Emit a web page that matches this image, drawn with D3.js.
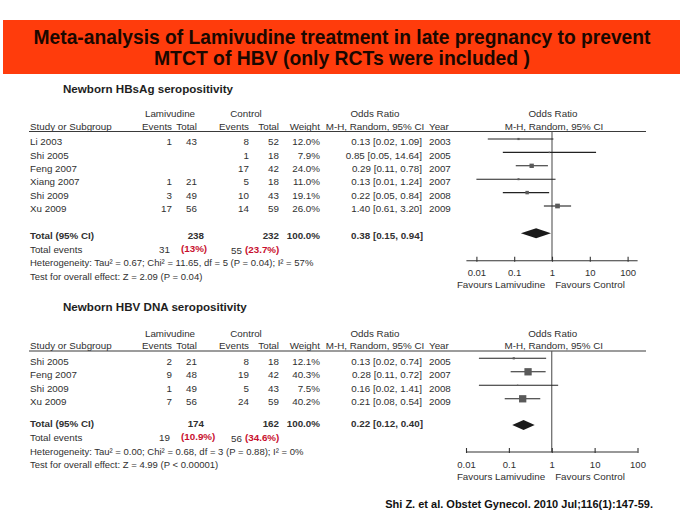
<!DOCTYPE html>
<html><head><meta charset="utf-8">
<script src="https://cdn.jsdelivr.net/npm/d3@7"></script>
<style>
html,body{margin:0;padding:0;background:#fff;}
svg{display:block;font-family:"Liberation Sans",Arial,sans-serif;}
</style></head>
<body><svg id="c" width="684" height="517"></svg>
<script>
// ---------------- DATA ----------------
const titleLines = ["Meta-analysis of Lamivudine treatment in late pregnancy to prevent", "MTCT of HBV (only RCTs were included )"];
const citation = "Shi Z. et al. Obstet Gynecol. 2010 Jul;116(1):147-59.";
const tickValues = [0.01, 0.1, 1, 10, 100];
const tickLabels = ["0.01", "0.1", "1", "10", "100"];

// Panel 1: Newborn HBsAg seropositivity
const p1Title = "Newborn HBsAg seropositivity";
const p1Studies = ["Li 2003", "Shi 2005", "Feng 2007", "Xiang 2007", "Shi 2009", "Xu 2009"];
const p1LamEvents = [1, null, null, 1, 3, 17];
const p1LamTotal = [43, null, null, 21, 49, 56];
const p1CtlEvents = [8, 1, 17, 5, 10, 14];
const p1CtlTotal = [52, 18, 42, 18, 43, 59];
const p1Weight = [12.0, 7.9, 24.0, 11.0, 19.1, 26.0];
const p1OR = [0.13, 0.85, 0.29, 0.13, 0.22, 1.40];
const p1Lo = [0.02, 0.05, 0.11, 0.01, 0.05, 0.61];
const p1Hi = [1.09, 14.64, 0.78, 1.24, 0.84, 3.20];
const p1Year = [2003, 2005, 2007, 2007, 2008, 2009];
const p1Totals = {lamTotal: 238, ctlTotal: 232, weight: 100.0, or: 0.38, lo: 0.15, hi: 0.94,
  lamEv: 31, lamPct: "(13%)", ctlEv: 55, ctlPct: "(23.7%)"};
const p1Het = "Heterogeneity: Tau\u00B2 = 0.67; Chi\u00B2 = 11.65, df = 5 (P = 0.04); I\u00B2 = 57%";
const p1Test = "Test for overall effect: Z = 2.09 (P = 0.04)";

// Panel 2: Newborn HBV DNA seropositivity
const p2Title = "Newborn HBV DNA seropositivity";
const p2Studies = ["Shi 2005", "Feng 2007", "Shi 2009", "Xu 2009"];
const p2LamEvents = [2, 9, 1, 7];
const p2LamTotal = [21, 48, 49, 56];
const p2CtlEvents = [8, 19, 5, 24];
const p2CtlTotal = [18, 42, 43, 59];
const p2Weight = [12.1, 40.3, 7.5, 40.2];
const p2OR = [0.13, 0.28, 0.16, 0.21];
const p2Lo = [0.02, 0.11, 0.02, 0.08];
const p2Hi = [0.74, 0.72, 1.41, 0.54];
const p2Year = [2005, 2007, 2008, 2009];
const p2Totals = {lamTotal: 174, ctlTotal: 162, weight: 100.0, or: 0.22, lo: 0.12, hi: 0.40,
  lamEv: 19, lamPct: "(10.9%)", ctlEv: 56, ctlPct: "(34.6%)"};
const p2Het = "Heterogeneity: Tau\u00B2 = 0.00; Chi\u00B2 = 0.68, df = 3 (P = 0.88); I\u00B2 = 0%";
const p2Test = "Test for overall effect: Z = 4.99 (P < 0.00001)";

// ---------------- DRAWING ----------------
const svg = d3.select("#c");
const f2 = d3.format(".2f"), f1 = d3.format(".1f");
const TXT = "#303030";

// title box
svg.append("rect").attr("x", 3).attr("y", 20).attr("width", 677).attr("height", 54).attr("fill", "#ff3c0c");
svg.selectAll("text.title").data(titleLines).join("text")
  .attr("class", "title")
  .attr("x", 342).attr("y", (d, i) => 44 + i * 21)
  .attr("text-anchor", "middle")
  .attr("font-size", 20).attr("font-weight", "bold").attr("fill", "#1a0800")
  .attr("textLength", (d, i) => i === 0 ? 617 : 376)
  .attr("lengthAdjust", "spacingAndGlyphs")
  .text(d => d);

// citation
svg.append("text").attr("x", 653).attr("y", 508).attr("text-anchor", "end")
  .attr("font-size", 11).attr("font-weight", "bold").attr("fill", "#111").text(citation);

const cols = {study: 30, lamEv: 172, lamTot: 197, ctlEv: 249, ctlTot: 279, weight: 320, or: 422, year: 429};
const weightSize = d3.scaleLinear().domain([0, 40.3]).range([0, 7.3]);

function panel(cfg, d) {
  const g = svg.append("g");
  const x = d3.scaleLog().domain([0.01, 100]).range(cfg.range);
  const fs = 9.8;
  const T = (xx, yy, s, anchor, opts = {}) => g.append("text").attr("x", xx).attr("y", yy)
    .attr("text-anchor", anchor || "start").attr("font-size", opts.size || fs)
    .attr("font-weight", opts.bold ? "bold" : "normal").attr("fill", opts.fill || TXT).text(s);

  // section title
  T(63, cfg.titleY, d.title, "start", {size: 11.6, bold: true, fill: "#1e1e1e"});
  // header row 1
  T(170, cfg.h1, "Lamivudine", "middle");
  T(246, cfg.h1, "Control", "middle");
  T(375, cfg.h1, "Odds Ratio", "middle");
  T(x(1) + 1, cfg.h1, "Odds Ratio", "middle");
  // header row 2
  T(cols.study, cfg.h2, "Study or Subgroup");
  T(cols.lamEv, cfg.h2, "Events", "end");
  T(cols.lamTot, cfg.h2, "Total", "end");
  T(cols.ctlEv, cfg.h2, "Events", "end");
  T(cols.ctlTot, cfg.h2, "Total", "end");
  T(cols.weight, cfg.h2, "Weight", "end");
  T(375, cfg.h2, "M-H, Random, 95% CI", "middle");
  T(cols.year, cfg.h2, "Year");
  T(x(1) + 2, cfg.h2, "M-H, Random, 95% CI", "middle");
  g.append("line").attr("x1", 29).attr("x2", 646).attr("y1", cfg.hline).attr("y2", cfg.hline)
    .attr("stroke", "#3a3a3a").attr("stroke-width", 1.1);

  // vertical line of no effect
  g.append("line").attr("x1", x(1)).attr("x2", x(1)).attr("y1", cfg.hline).attr("y2", cfg.axisY)
    .attr("stroke", "#555").attr("stroke-width", 1.1);

  // rows
  const rowY = i => cfg.row0 + i * cfg.rowStep;
  d.studies.forEach((s, i) => {
    const y = rowY(i), ty = y + 6.2;
    T(cols.study, ty, s);
    if (d.lamEv[i] != null) T(cols.lamEv, ty, d.lamEv[i], "end");
    if (d.lamTot[i] != null) T(cols.lamTot, ty, d.lamTot[i], "end");
    T(cols.ctlEv, ty, d.ctlEv[i], "end");
    T(cols.ctlTot, ty, d.ctlTot[i], "end");
    T(cols.weight, ty, f1(d.weight[i]) + "%", "end");
    T(cols.or, ty, `${f2(d.or[i])} [${f2(d.lo[i])}, ${f2(d.hi[i])}]`, "end");
    T(cols.year, ty, d.year[i]);
    g.append("line").attr("x1", x(d.lo[i])).attr("x2", x(d.hi[i])).attr("y1", y).attr("y2", y)
      .attr("stroke", "#222").attr("stroke-width", 1.1);
    const sz = weightSize(d.weight[i]);
    g.append("rect").attr("x", x(d.or[i]) - sz / 2).attr("y", y - sz / 2)
      .attr("width", sz).attr("height", sz).attr("fill", "#5a5a5a");
  });

  // totals
  const t = d.totals;
  T(cols.study, cfg.totY, "Total (95% CI)", "start", {bold: true});
  T(cols.lamTot + 7, cfg.totY, t.lamTotal, "end", {bold: true});
  T(cols.ctlTot, cfg.totY, t.ctlTotal, "end", {bold: true});
  T(cols.weight, cfg.totY, f1(t.weight) + "%", "end", {bold: true});
  T(cols.or + 1, cfg.totY, `${f2(t.or)} [${f2(t.lo)}, ${f2(t.hi)}]`, "end", {bold: true});
  const dy = cfg.diamY, hh = 5;
  g.append("path").attr("d", `M${x(t.lo)},${dy}L${x(t.or)},${dy - hh}L${x(t.hi)},${dy}L${x(t.or)},${dy + hh}Z`)
    .attr("fill", "#1a1a1a");

  T(cols.study, cfg.evY, "Total events");
  T(170, cfg.evY, t.lamEv, "end");
  T(181, cfg.evY - 1, t.lamPct, "start", {bold: true, fill: "#c8102e"});
  T(242, cfg.evY + 1, t.ctlEv, "end");
  T(245, cfg.evY, t.ctlPct, "start", {bold: true, fill: "#c8102e"});
  T(cols.study, cfg.hetY, d.het, "start", {size: 9.5});
  T(cols.study, cfg.testY, d.test, "start", {size: 9.5});

  // axis
  g.append("line").attr("x1", cfg.range[0] - cfg.pad).attr("x2", cfg.range[1] + cfg.pad)
    .attr("y1", cfg.axisY).attr("y2", cfg.axisY).attr("stroke", "#333").attr("stroke-width", 1.1);
  const ax = d3.axisBottom(x).tickValues(tickValues).tickFormat((v, i) => tickLabels[i])
    .tickSizeInner(-5).tickSizeOuter(0).tickPadding(8);
  const axg = g.append("g").attr("transform", `translate(0,${cfg.axisY + 1})`).call(ax);
  axg.select(".domain").remove();
  axg.selectAll(".tick line").attr("stroke", "#333").attr("stroke-width", 1.1);
  axg.selectAll(".tick text").attr("font-size", 9.5).attr("fill", TXT)
    .attr("font-family", "Liberation Sans, Arial, sans-serif");
  T(501, cfg.favY, "Favours Lamivudine", "middle", {size: 9.8});
  T(590, cfg.favY, "Favours Control", "middle", {size: 9.8});
}

panel({range: [476.4, 627.6], pad: 10, titleY: 92.5, h1: 116.5, h2: 129.5, hline: 131.5,
  row0: 139, rowStep: 13.4, totY: 238.5, diamY: 233.3, evY: 252.5, hetY: 266, testY: 279.5,
  axisY: 260.7, favY: 288},
  {title: p1Title, studies: p1Studies, lamEv: p1LamEvents, lamTot: p1LamTotal, ctlEv: p1CtlEvents,
   ctlTot: p1CtlTotal, weight: p1Weight, or: p1OR, lo: p1Lo, hi: p1Hi, year: p1Year,
   totals: p1Totals, het: p1Het, test: p1Test});

panel({range: [466, 637.5], pad: 0, titleY: 311, h1: 336.5, h2: 349, hline: 351,
  row0: 358.3, rowStep: 13.5, totY: 427, diamY: 425, evY: 441, hetY: 454.5, testY: 468,
  axisY: 452, favY: 480},
  {title: p2Title, studies: p2Studies, lamEv: p2LamEvents, lamTot: p2LamTotal, ctlEv: p2CtlEvents,
   ctlTot: p2CtlTotal, weight: p2Weight, or: p2OR, lo: p2Lo, hi: p2Hi, year: p2Year,
   totals: p2Totals, het: p2Het, test: p2Test});
</script></body></html>
